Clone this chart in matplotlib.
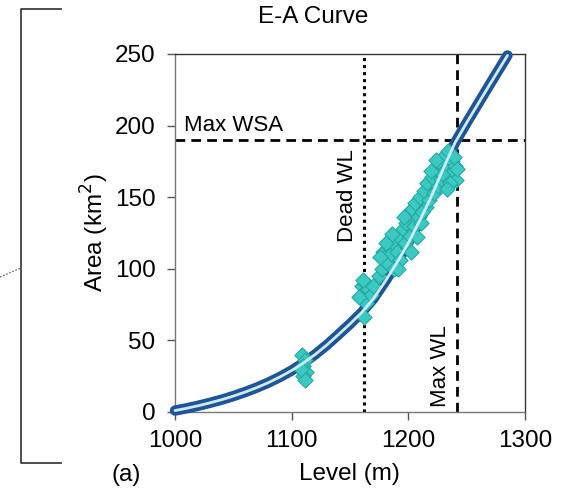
import matplotlib
matplotlib.use("Agg")
import matplotlib.pyplot as plt
from matplotlib.lines import Line2D

plt.rcParams['font.family'] = ['Liberation Sans', 'DejaVu Sans']

# E-A curve (fitted)
curve_level = [1000, 1010, 1020, 1030, 1040, 1050, 1060, 1070, 1080, 1090, 1100,
               1110, 1120, 1130, 1140, 1150, 1160, 1170, 1180, 1190, 1200, 1210,
               1220, 1230, 1240, 1250, 1260, 1270, 1285]
curve_area = [1, 2.6, 4.4, 6.4, 8.6, 11.1, 13.9, 17.0, 20.5, 24.5, 29.0,
              34.2, 40.1, 46.7, 54.0, 61.5, 69.5, 79, 91, 104, 118, 134,
              151, 170, 188, 202, 215.5, 229, 249]

# Observed (level, area) points
obs_level = [1109, 1111, 1110, 1112, 1110, 1111, 1108,
             1160, 1162, 1163, 1165, 1166, 1164, 1162, 1168, 1170, 1158, 1161,
             1175, 1177, 1178, 1180, 1182, 1183, 1185, 1187, 1188, 1190,
             1192, 1193, 1195, 1197, 1198, 1200, 1201, 1203, 1205, 1206,
             1208, 1210, 1211, 1213, 1215, 1216, 1218, 1220, 1222, 1223,
             1225, 1227, 1228, 1230, 1232, 1234, 1235, 1237, 1238, 1240,
             1241, 1239, 1242, 1236, 1233, 1229,
             1176, 1181, 1186, 1191, 1196, 1202, 1207, 1212, 1219, 1224]
obs_area = [40, 36, 32, 28, 25, 22, 30,
            88, 84, 90, 86, 80, 76, 66, 82, 88, 80, 92,
            95, 100, 112, 108, 104, 115, 110, 118, 100, 112,
            122, 106, 128, 118, 132, 138, 123, 142, 130, 146,
            136, 150, 132, 154, 143, 160, 148, 164, 153, 170,
            158, 174, 163, 178, 170, 182, 165, 175, 168, 172,
            162, 178, 170, 160, 156, 166,
            108, 118, 124, 100, 136, 112, 122, 140, 168, 176]

dead_wl = 1162
max_wl = 1242
max_wsa = 190

xticks = [1000, 1100, 1200, 1300]
yticks = [0, 50, 100, 150, 200, 250]

W, H = 565, 497
fig = plt.figure(figsize=(W / 100, H / 100), dpi=100)
ax = fig.add_axes([175 / W, 85 / H, 350 / W, 358 / H])

fs = 17.5
ax.axvline(dead_wl, color='black', lw=2.2, ls=(0, (1, 1.3)), zorder=2)
ax.axvline(max_wl, color='black', lw=2.0, ls=(0, (3.5, 2.2)), zorder=2)
ax.axhline(max_wsa, color='black', lw=2.0, ls=(0, (3.5, 2.2)), zorder=2)

ax.plot(curve_level, curve_area, color='#1f5596', lw=7.5,
        solid_capstyle='round', solid_joinstyle='round', zorder=3, clip_on=False)
ax.scatter(obs_level, obs_area, marker='D', s=60, color='#3cc9c2',
           edgecolor='#23a9a2', linewidth=0.8, zorder=4)
ax.plot(curve_level, curve_area, color='#cdeaf6', lw=2.0,
        solid_capstyle='round', solid_joinstyle='round', zorder=5, clip_on=False)

ax.text(1008, 193, 'Max WSA', fontsize=16, ha='left', va='bottom')
ax.text(1148, 151, 'Dead WL', fontsize=16, rotation=90, ha='center', va='center')
ax.text(1228, 32, 'Max WL', fontsize=16, rotation=90, ha='center', va='center')

ax.set_xlim(1000, 1300)
ax.set_ylim(0, 250)
ax.set_xticks(xticks)
ax.set_yticks(yticks)
ax.tick_params(labelsize=fs, direction='out', length=6, width=1, color='#555555')
ax.tick_params(axis='x', pad=7)
ax.tick_params(axis='y', pad=8)
for s in ax.spines.values():
    s.set_color('#333333')
    s.set_linewidth(1.0)
for s in ('left', 'bottom'):
    ax.spines[s].set_color('#777777')

ax.set_xlabel('Level (m)', fontsize=fs)
ax.set_ylabel('Area (km$^2$)', fontsize=fs)
ax.xaxis.set_label_coords((349 - 175) / 350, (412 - 463) / 358)
ax.yaxis.set_label_coords((111 - 175) / 350, 0.5 + (412 - 233 - 179) / 358)

fig.text(313 / W, 1 - 17 / H, 'E-A Curve', fontsize=fs, ha='center', va='center')
fig.text(126 / W, 1 - 475 / H, '(a)', fontsize=fs, ha='center', va='center')

# bracket on left
bc = '#404040'
fig.add_artist(Line2D([61 / W, 21 / W, 21 / W, 61 / W],
                      [1 - 9 / H, 1 - 9 / H, 1 - 463 / H, 1 - 463 / H],
                      transform=fig.transFigure, color=bc, lw=1.3))
fig.add_artist(Line2D([0, 21 / W], [1 - 277 / H, 1 - 268 / H],
                      transform=fig.transFigure, color='#555555', lw=0.8,
                      ls=(0, (1.5, 1.5))))

fig.savefig('out.png', dpi=100)
